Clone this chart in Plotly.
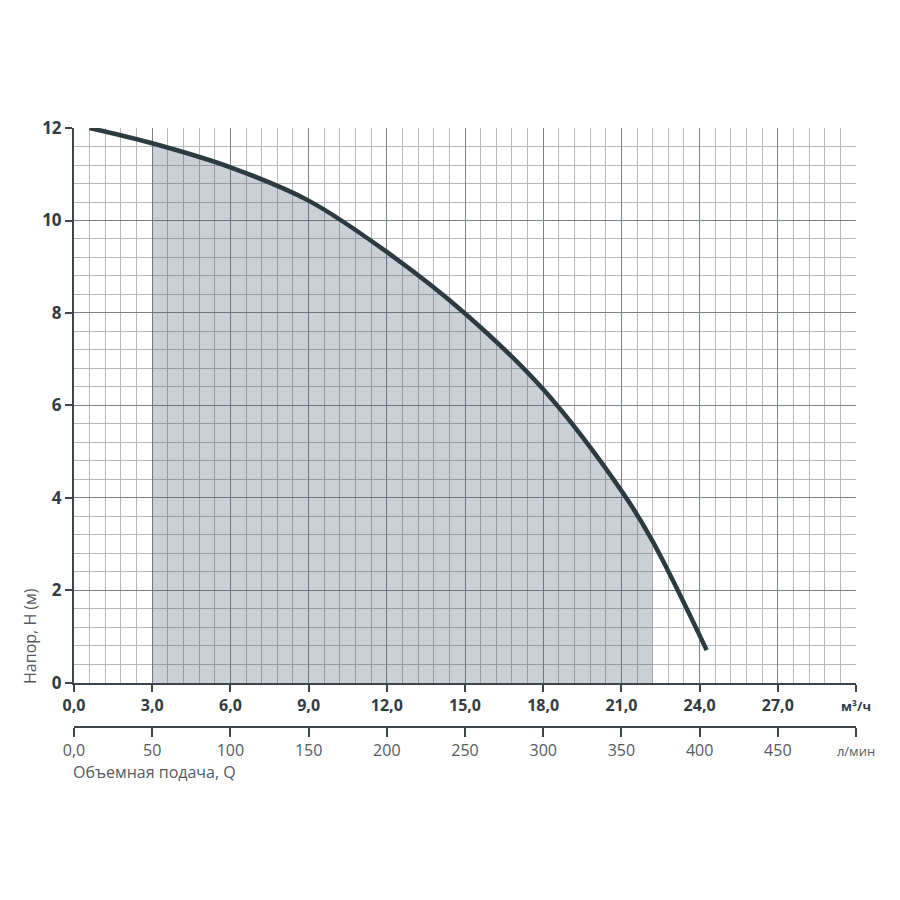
import plotly.graph_objects as go

# Pump curve data (Q in m3/h, H in m)
q_curve = [0.6, 3.0, 6.0, 9.0, 12.0, 15.0, 18.0, 21.07, 22.2, 24.27]
h_curve = [12.0, 11.67, 11.15, 10.43, 9.32, 7.99, 6.35, 4.10, 3.06, 0.71]

# Recommended working range (shaded)
q_work = [3.0, 6.0, 9.0, 12.0, 15.0, 18.0, 21.07, 22.2]
h_work = [11.67, 11.15, 10.43, 9.32, 7.99, 6.35, 4.10, 3.06]

x_tickvals = [0, 3, 6, 9, 12, 15, 18, 21, 24, 27, 30]
x_ticktext = ["0,0", "3,0", "6,0", "9,0", "12,0", "15,0", "18,0", "21,0", "24,0", "27,0", "м³/ч"]
x2_tickvals = [0, 50, 100, 150, 200, 250, 300, 350, 400, 450, 500]
x2_ticktext = ["0,0", "50", "100", "150", "200", "250", "300", "350", "400", "450", "л/мин"]
y_tickvals = [0, 2, 4, 6, 8, 10, 12]
y_ticktext = ["0", "2", "4", "6", "8", "10", "12"]

dark = "#2c3a42"
bold_font = dict(family="Open Sans", size=16, color="#333b42", weight="bold")
reg_font = dict(family="Open Sans", size=16, color="#555b60")

fig = go.Figure()
fig.add_trace(go.Scatter(
    x=q_work, y=h_work, mode="lines", line=dict(width=0, shape="spline"),
    fill="tozeroy", fillcolor="rgba(60,80,100,0.27)", hoverinfo="skip", showlegend=False))
fig.add_trace(go.Scatter(
    x=q_curve, y=h_curve, mode="lines", line=dict(color=dark, width=4.5, shape="spline"),
    showlegend=False))
# invisible trace for second x-axis
fig.add_trace(go.Scatter(x=[0, 500], y=[0, 0], xaxis="x2", mode="markers",
                         marker=dict(opacity=0), showlegend=False, hoverinfo="skip"))

fig.update_layout(
    width=900, height=900,
    margin=dict(l=74, r=44, t=128, b=173),
    plot_bgcolor="white", paper_bgcolor="white",
    xaxis=dict(range=[0, 30], tickmode="array", tickvals=x_tickvals, ticktext=x_ticktext,
               showgrid=True, gridcolor="#7c848a", gridwidth=1.3,
               minor=dict(dtick=0.6, tick0=0, showgrid=True, gridcolor="#b5b9bd", gridwidth=1.2),
               showline=True, linecolor="#3d454c", linewidth=2,
               ticks="outside", ticklen=7, tickcolor="#3d454c", tickwidth=1.5,
               tickfont=bold_font, zeroline=False, anchor="y", fixedrange=True),
    xaxis2=dict(range=[0, 500], tickmode="array", tickvals=x2_tickvals, ticktext=x2_ticktext,
                anchor="free", position=0, overlaying="x", side="bottom",
                showgrid=False, showline=True, linecolor="#3d454c", linewidth=2,
                ticks="outside", ticklen=9, tickcolor="#3d454c", tickwidth=1.5,
                tickfont=reg_font, zeroline=False),
    yaxis=dict(range=[0, 12], domain=[0.0735, 1], tickmode="array", tickvals=y_tickvals,
               ticktext=y_ticktext,
               showgrid=True, gridcolor="#7c848a", gridwidth=1.3,
               minor=dict(dtick=0.4, tick0=0, showgrid=True, gridcolor="#b5b9bd", gridwidth=1.2),
               showline=True, linecolor="#3d454c", linewidth=2,
               ticks="outside", ticklen=7, tickcolor="#3d454c", tickwidth=1.5,
               tickfont=dict(family="Open Sans", size=17, color="#333b42", weight="bold"),
               zeroline=False, fixedrange=True),
    annotations=[
        dict(text="Напор, H (м)", textangle=-90, xref="paper", yref="paper",
             x=-0.0563, y=0.152, xanchor="center", yanchor="middle", showarrow=False,
             font=dict(family="Open Sans", size=16, color="#555b60")),
        dict(text="Объемная подача, Q", xref="paper", yref="paper",
             x=-0.004, y=-0.075, xanchor="left", yanchor="middle", showarrow=False,
             font=reg_font),
    ],
)

# shrink the unit labels at the end of each axis after rendering
fig.write_html("out.html", post_script="""
var gd = document.getElementById('{plot_id}');
function shrinkUnits(){
  ['м³/ч','л/мин'].forEach(function(t){
    gd.querySelectorAll('.xtick text, .x2tick text').forEach(function(el){
      if (el.textContent === t) { el.style.fontSize = '13px'; }
    });
  });
}
shrinkUnits();
gd.on('plotly_afterplot', shrinkUnits);
""")
